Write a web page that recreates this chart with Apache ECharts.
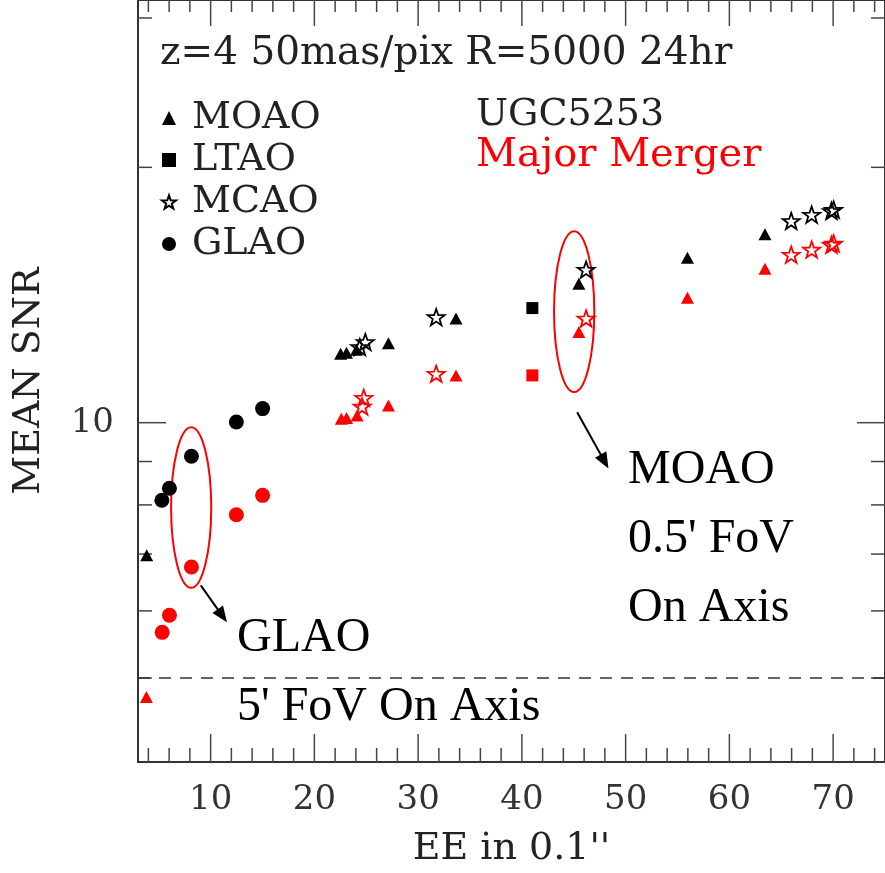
<!DOCTYPE html>
<html>
<head>
<meta charset="utf-8">
<script src="https://cdn.jsdelivr.net/npm/echarts@6/dist/echarts.min.js"></script>
<style>
  html, body { margin: 0; padding: 0; background: #fff; }
  #chart { width: 885px; height: 873px; }
</style>
</head>
<body>
<div id="chart"></div>
<script>
// values: [EE in 0.1", mean SNR]
const moaoUgc = [[3.84, 6.98], [22.53, 12.06], [23.10, 12.09], [24.06, 12.19], [27.14, 12.41], [33.65, 13.27], [45.49, 14.58], [55.96, 15.65], [63.43, 16.68]];
const moaoMerger = [[3.81, 4.75], [22.6, 10.11], [23.1, 10.13], [24.12, 10.2], [27.14, 10.48], [33.65, 11.37], [45.49, 12.79], [55.96, 14.04], [63.43, 15.19]];
const ltaoUgc = [[41.01, 13.65]];
const ltaoMerger = [[41.01, 11.37]];
const mcaoUgc = [[24.38, 12.28], [24.91, 12.45], [31.74, 13.32], [46.19, 15.15], [65.96, 17.29], [67.93, 17.59], [69.84, 17.77], [70.05, 17.83]];
const mcaoMerger = [[24.6, 10.45], [24.76, 10.7], [31.74, 11.42], [46.19, 13.27], [65.96, 15.78], [67.93, 16.0], [69.84, 16.21], [70.05, 16.27]];
const glaoUgc = [[5.3, 8.1], [6.03, 8.37], [8.15, 9.13], [12.48, 10.02], [15.01, 10.39]];
const glaoMerger = [[5.33, 5.66], [6.03, 5.93], [8.15, 6.76], [12.48, 7.79], [15.01, 8.21]];

const legendNames = ['MOAO', 'LTAO', 'MCAO', 'GLAO'];

// axis ticks
const xMajorTicks = [10, 20, 30, 40, 50, 60, 70];
const xMinorTicks = [4, 6, 8, 12, 14, 16, 18, 22, 24, 26, 28, 32, 34, 36, 38, 42, 44, 46, 48, 52, 54, 56, 58, 62, 64, 66, 68, 72, 74];
const yMajorTicks = [10];
const yMinorTicks = [5, 6, 7, 8, 9, 20, 30];

// annotations: ellipses [xmin, xmax, ymin, ymax], arrows [[x0,y0],[x1,y1]], fov line
const ellipses = [[6.19, 10.06, 6.39, 9.88], [43.1, 46.98, 10.87, 16.82]];
const arrows = [[[9.05, 6.43], [11.13, 5.92]], [[45.33, 10.29], [47.97, 9.0]]];
const fovLevel = 5;

const starPath = 'path://M0,-10L2.35,-3.24L9.51,-3.09L3.8,1.24L5.88,8.09L0,4L-5.88,8.09L-3.8,1.24L-9.51,-3.09L-2.35,-3.24Z';
const serifFont = '"DejaVu Serif", serif';
const textSerif = '"Liberation Serif", serif';

const chart = echarts.init(document.getElementById('chart'));

function scatter(name, data, color, shape) {
  let s = {
    name: name,
    type: 'scatter',
    data: data,
    z: 3,
    symbolKeepAspect: true,
    itemStyle: { color: color, opacity: 1 }
  };
  if (shape === 'triangle') { s.symbol = 'triangle'; s.symbolSize = [13, 12]; }
  if (shape === 'square') { s.symbol = 'rect'; s.symbolSize = 12; }
  if (shape === 'circle') { s.symbol = 'circle'; s.symbolSize = 15; }
  if (shape === 'star') {
    s.symbol = starPath;
    s.symbolSize = 17;
    s.itemStyle = { color: 'rgba(0,0,0,0)', borderColor: color, borderWidth: 1.8, opacity: 1 };
  }
  return s;
}

let tickData = [];
xMajorTicks.forEach(v => tickData.push([v, 10, 0]));
xMinorTicks.forEach(v => tickData.push([v, 10, 1]));
yMajorTicks.forEach(v => tickData.push([10, v, 2]));
yMinorTicks.forEach(v => tickData.push([10, v, 3]));

function renderTick(params, api) {
  const cs = params.coordSys;
  const kind = api.value(2);
  const len = (kind === 0 || kind === 2) ? 28 : 14;
  const st = () => ({ stroke: '#444', lineWidth: 1.5 });
  if (kind < 2) {
    const px = api.coord([api.value(0), 10])[0];
    return {
      type: 'group', children: [
        { type: 'line', shape: { x1: px, y1: cs.y + cs.height, x2: px, y2: cs.y + cs.height - len }, style: st() },
        { type: 'line', shape: { x1: px, y1: cs.y, x2: px, y2: cs.y + len - 2 }, style: st() }
      ]
    };
  }
  const py = api.coord([10, api.value(1)])[1];
  return {
    type: 'group', children: [
      { type: 'line', shape: { x1: cs.x, y1: py, x2: cs.x + len, y2: py }, style: st() },
      { type: 'line', shape: { x1: cs.x + cs.width, y1: py, x2: cs.x + cs.width - len, y2: py }, style: st() }
    ]
  };
}

function renderEllipse(params, api) {
  const p0 = api.coord([api.value(0), api.value(3)]);
  const p1 = api.coord([api.value(1), api.value(2)]);
  return {
    type: 'ellipse',
    shape: {
      cx: (p0[0] + p1[0]) / 2, cy: (p0[1] + p1[1]) / 2,
      rx: Math.abs(p1[0] - p0[0]) / 2, ry: Math.abs(p1[1] - p0[1]) / 2
    },
    style: { fill: 'none', stroke: '#ff0000', lineWidth: 2 }
  };
}

const option = {
  animation: false,
  grid: { left: 138, right: -10, top: 0, bottom: 111, show: true, borderColor: '#333', borderWidth: 2 },
  xAxis: {
    type: 'value', min: 3, max: 75, splitNumber: 7,
    name: 'EE in 0.1\'\'', nameLocation: 'middle', nameGap: 68,
    nameTextStyle: { fontFamily: serifFont, fontSize: 38, color: '#222' },
    axisLine: { show: true, lineStyle: { color: '#333', width: 2 } },
    axisTick: { show: false }, splitLine: { show: false },
    axisLabel: {
      margin: 21, fontFamily: serifFont, fontSize: 34, color: '#333',
      showMinLabel: false, showMaxLabel: false,
      formatter: v => (v % 10 === 0 ? String(v) : '')
    }
  },
  yAxis: {
    type: 'log', logBase: 10, min: 3.981, max: 31.5,
    name: 'MEAN SNR', nameLocation: 'middle', nameGap: 90,
    nameTextStyle: { fontFamily: serifFont, fontSize: 38, color: '#222' },
    axisLine: { show: true, lineStyle: { color: '#333', width: 2 } },
    axisTick: { show: false }, splitLine: { show: false }, minorTick: { show: false },
    axisLabel: {
      margin: 24, fontFamily: serifFont, fontSize: 34, color: '#333',
      showMinLabel: false, showMaxLabel: false,
      formatter: v => (Math.abs(v - 10) < 1e-6 ? '10' : '')
    }
  },
  legend: {
    data: legendNames, orient: 'vertical', left: 156, top: 94,
    itemWidth: 14, itemHeight: 14, itemGap: 4, selectedMode: false,
    textStyle: { fontFamily: serifFont, fontSize: 38, lineHeight: 38, color: '#222', padding: [0, 0, 0, 11] }
  },
  graphic: [
    { type: 'text', x: 160, y: 54, style: { text: 'z=4 50mas/pix R=5000 24hr', font: '39px ' + serifFont, fill: '#222', verticalAlign: 'middle' } },
    { type: 'text', x: 476, y: 115, style: { text: 'UGC5253', font: '38px ' + serifFont, fill: '#222', verticalAlign: 'middle' } },
    { type: 'text', x: 476, y: 156, style: { text: 'Major Merger', font: '40px ' + serifFont, fill: '#ff0000', verticalAlign: 'middle' } },
    { type: 'text', x: 237, y: 638, style: { text: 'GLAO', font: '48px ' + textSerif, fill: '#000', verticalAlign: 'middle' } },
    { type: 'text', x: 237, y: 707, style: { text: '5\' FoV On Axis', font: '48px ' + textSerif, fill: '#000', verticalAlign: 'middle' } },
    { type: 'text', x: 628, y: 436, style: { text: 'MOAO\n0.5\' FoV\nOn Axis', font: '48px ' + textSerif, lineHeight: 69, fill: '#000', verticalAlign: 'top' } }
  ],
  series: [
    {
      type: 'custom', name: 'ticks', data: tickData, renderItem: renderTick,
      encode: { x: 0, y: 1 }, clip: false, silent: true, z: 1,
      markLine: {
        silent: true, symbol: ['none', 'none'], label: { show: false },
        lineStyle: { color: '#333', width: 1.5, type: [12, 9] },
        data: [{ yAxis: fovLevel }]
      }
    },
    {
      type: 'custom', name: 'ellipses', data: ellipses, renderItem: renderEllipse,
      encode: { x: [0, 1], y: [2, 3] }, clip: false, silent: true, z: 2,
      markLine: {
        silent: true, label: { show: false },
        symbol: ['none', 'triangle'], symbolSize: [13, 16],
        lineStyle: { color: '#000', width: 2, type: 'solid' },
        data: arrows.map(a => [{ coord: a[0] }, { coord: a[1] }])
      }
    },
    scatter('MOAO', moaoUgc, '#000', 'triangle'),
    scatter('LTAO', ltaoUgc, '#000', 'square'),
    scatter('MCAO', mcaoUgc, '#000', 'star'),
    scatter('GLAO', glaoUgc, '#000', 'circle'),
    scatter('MOAO Major Merger', moaoMerger, '#ff0000', 'triangle'),
    scatter('LTAO Major Merger', ltaoMerger, '#ff0000', 'square'),
    scatter('MCAO Major Merger', mcaoMerger, '#ff0000', 'star'),
    scatter('GLAO Major Merger', glaoMerger, '#ff0000', 'circle')
  ]
};

chart.setOption(option);
</script>
</body>
</html>
